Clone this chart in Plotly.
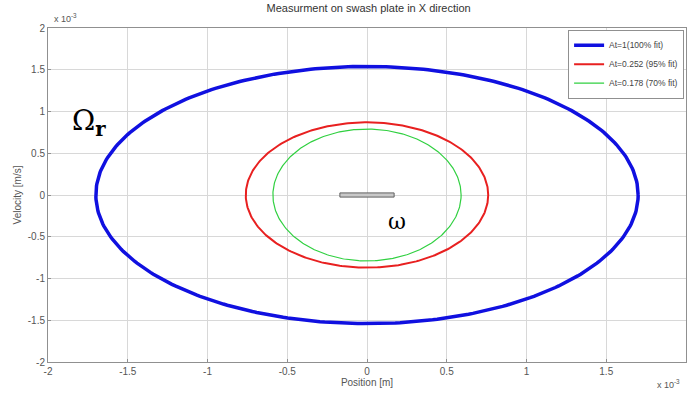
import numpy as np
import plotly.graph_objects as go

# Data (values in units of 1e-3)
series_names = ["At=1(100% fit)", "At=0.252 (95% fit)", "At=0.178 (70% fit)"]
semi_x = [1.70, 0.76, 0.59]      # position semi-axis
semi_y = [1.54, 0.87, 0.79]      # velocity semi-axis
colors = ["#1010e0", "#e82020", "#30d040"]
widths = [3.5, 2, 1.2]

rect_x = [-0.17, 0.17]
rect_y = [-0.025, 0.025]

x_ticks = [-2, -1.5, -1, -0.5, 0, 0.5, 1, 1.5, 2]
y_ticks = [-2, -1.5, -1, -0.5, 0, 0.5, 1, 1.5, 2]

t = np.linspace(0, 2 * np.pi, 361)
fig = go.Figure()
for name, a, b, c, w in zip(series_names, semi_x, semi_y, colors, widths):
    fig.add_trace(go.Scatter(x=a * np.cos(t), y=b * np.sin(t), mode="lines",
                             name=name, line=dict(color=c, width=w)))

fig.add_shape(type="rect", xref="x", yref="y", x0=rect_x[0], x1=rect_x[1],
              y0=rect_y[0], y1=rect_y[1], fillcolor="#c8c8c8",
              line=dict(color="#606060", width=1))

fig.add_annotation(x=-1.74, y=0.87, xref="x", yref="y", text="Ω<sub><b>r</b></sub>",
                   showarrow=False, font=dict(family="DejaVu Serif", size=28, color="black"))
fig.add_annotation(x=0.19, y=-0.32, xref="x", yref="y", text="ω",
                   showarrow=False, font=dict(family="DejaVu Serif", size=22, color="black"))
fig.add_annotation(x=0, y=1, xref="paper", yref="paper", xanchor="left", yanchor="bottom",
                   text="x 10<sup>-3</sup>", showarrow=False, yshift=2, xshift=4,
                   font=dict(family="Liberation Sans", size=9, color="#555"))
fig.add_annotation(x=1, y=0, xref="paper", yref="paper", xanchor="right", yanchor="top",
                   text="x 10<sup>-3</sup>", showarrow=False, yshift=-14, xshift=-4,
                   font=dict(family="Liberation Sans", size=9, color="#555"))

axis_common = dict(showgrid=True, gridcolor="#d8d8d8", gridwidth=1, zeroline=False,
                   showline=True, linecolor="#909090", mirror=True, ticks="inside",
                   ticklen=3, tickcolor="#909090", automargin=False,
                   tickfont=dict(family="Liberation Sans", size=10, color="#555"))

fig.update_layout(
    width=689, height=398,
    margin=dict(l=48, r=3, t=28, b=36),
    paper_bgcolor="white", plot_bgcolor="white",
    title=dict(text="Measurment on swash plate in X direction", x=0.535, y=0.99,
               xanchor="center", yanchor="top", automargin=False,
               font=dict(family="Liberation Sans", size=11, color="#333")),
    xaxis=dict(range=[-2, 2], tickvals=x_ticks, ticktext=[f"{v:g}" for v in x_ticks],
               title=dict(text="Position [m]", standoff=2,
                          font=dict(family="Liberation Sans", size=10, color="#555")),
               **axis_common),
    yaxis=dict(range=[-2, 2], tickvals=y_ticks, ticktext=[f"{v:g}" for v in y_ticks],
               title=dict(text="Velocity [m/s]", standoff=4,
                          font=dict(family="Liberation Sans", size=10, color="#555")),
               **axis_common),
    legend=dict(x=0.997, y=0.995, xanchor="right", yanchor="top",
                bgcolor="white", bordercolor="#909090", borderwidth=1,
                font=dict(family="Liberation Sans", size=8.5, color="#444"),
                tracegroupgap=0, itemwidth=30),
    showlegend=True,
)

fig.write_html("out.html", config={"displayModeBar": False},
               post_script="document.body.style.margin='0';document.body.style.overflow='hidden';")
